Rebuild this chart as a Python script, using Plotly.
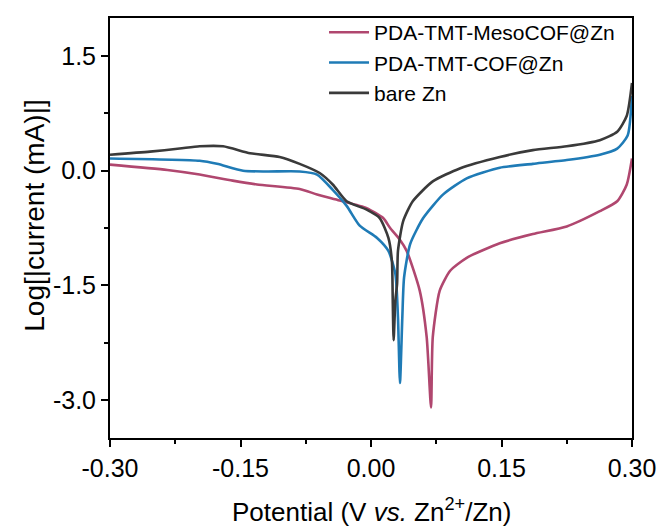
import plotly.graph_objects as go

# Potential (V vs. Zn2+/Zn) and log|current (mA)| values
meso_x = [-0.300, -0.234, -0.197, -0.159, -0.131, -0.082, -0.062, -0.036, -0.005, 0.014, 0.022,
          0.033, 0.041, 0.056, 0.064, 0.069, 0.071, 0.079, 0.091, 0.110, 0.148, 0.186, 0.225,
          0.263, 0.283, 0.294, 0.300]
meso_y = [0.08, 0.01, -0.05, -0.13, -0.18, -0.24, -0.31, -0.39, -0.49, -0.62, -0.75,
          -0.90, -1.05, -1.57, -2.18, -3.10, -2.18, -1.57, -1.31, -1.14, -0.95, -0.83, -0.73,
          -0.53, -0.40, -0.18, 0.16]

cof_x = [-0.300, -0.197, -0.177, -0.147, -0.120, -0.082, -0.062, -0.044, -0.028, -0.013, 0.007,
         0.020, 0.028, 0.031, 0.0333, 0.036, 0.038, 0.045, 0.060, 0.083, 0.110, 0.148, 0.186,
         0.225, 0.263, 0.283, 0.295, 0.300]
cof_y = [0.16, 0.13, 0.09, 0.00, -0.01, -0.01, -0.05, -0.25, -0.46, -0.72, -0.88,
         -1.05, -1.35, -1.92, -2.78, -1.92, -1.40, -0.96, -0.62, -0.31, -0.10, 0.04, 0.09,
         0.14, 0.21, 0.29, 0.46, 0.98]

bare_x = [-0.300, -0.254, -0.220, -0.197, -0.170, -0.139, -0.105, -0.082, -0.059, -0.044, -0.028,
          -0.005, 0.010, 0.020, 0.024, 0.025, 0.026, 0.028, 0.030, 0.031, 0.037, 0.048, 0.071,
          0.102, 0.148, 0.186, 0.225, 0.263, 0.283, 0.294, 0.300]
bare_y = [0.21, 0.25, 0.29, 0.32, 0.32, 0.23, 0.18, 0.09, -0.03, -0.18, -0.40,
          -0.51, -0.62, -0.88, -1.18, -1.70, -2.22, -1.70, -1.48, -1.05, -0.66, -0.40, -0.14,
          0.03, 0.18, 0.27, 0.32, 0.40, 0.51, 0.72, 1.15]

x_ticks = [-0.30, -0.15, 0.00, 0.15, 0.30]
x_labels = ["-0.30", "-0.15", "0.00", "0.15", "0.30"]
y_ticks = [-3.0, -1.5, 0.0, 1.5]
y_labels = ["-3.0", "-1.5", "0.0", "1.5"]

series = [
    ("PDA-TMT-MesoCOF@Zn", meso_x, meso_y, "#B0476F"),
    ("PDA-TMT-COF@Zn", cof_x, cof_y, "#1F7BB6"),
    ("bare Zn", bare_x, bare_y, "#3A3A3A"),
]

fig = go.Figure()
for name, xs, ys, col in series:
    fig.add_trace(go.Scatter(x=xs, y=ys, mode="lines", name=name,
                             line=dict(color=col, width=2.6, shape="spline", smoothing=0.6)))

font = "Arial, Liberation Sans, sans-serif"
axis_common = dict(showgrid=False, zeroline=False, showline=True, linecolor="black", linewidth=2,
                   mirror=True, ticks="outside", ticklen=7, tickwidth=1.5, tickcolor="black",
                   automargin=False,
                   tickfont=dict(family=font, size=25, color="black"))

fig.update_layout(
    width=662, height=531,
    margin=dict(l=110, r=30, t=15, b=93),
    paper_bgcolor="white", plot_bgcolor="white",
    font=dict(family=font, color="black"),
    xaxis=dict(range=[-0.30, 0.30], tickvals=x_ticks, ticktext=x_labels,
               minor=dict(ticks="outside", ticklen=4, tickwidth=1.5, tickcolor="black", dtick=0.075),
               **axis_common),
    yaxis=dict(range=[-3.5, 2.0], tickvals=y_ticks, ticktext=y_labels,
               minor=dict(ticks="outside", ticklen=4, tickwidth=1.5, tickcolor="black",
                          tickvals=[-2.25, -0.75, 0.75]),
               **axis_common),
    legend=dict(x=0.41, y=1.014, xanchor="left", yanchor="top", bgcolor="rgba(0,0,0,0)",
                font=dict(family=font, size=21, color="black"), tracegroupgap=0,
                itemwidth=40),
    showlegend=True,
    annotations=[
        dict(text="Potential (V <i>vs.</i> Zn<sup>2+</sup>/Zn)", xref="paper", yref="paper",
             x=0.5, y=-0.172, xanchor="center", yanchor="middle", showarrow=False,
             font=dict(family=font, size=26, color="black")),
        dict(text="Log[|current (mA)|]", xref="paper", yref="paper",
             x=-0.145, y=0.53, xanchor="center", yanchor="middle", showarrow=False,
             textangle=-90, font=dict(family=font, size=28, color="black")),
    ],
)

fig.write_html("out.html")
